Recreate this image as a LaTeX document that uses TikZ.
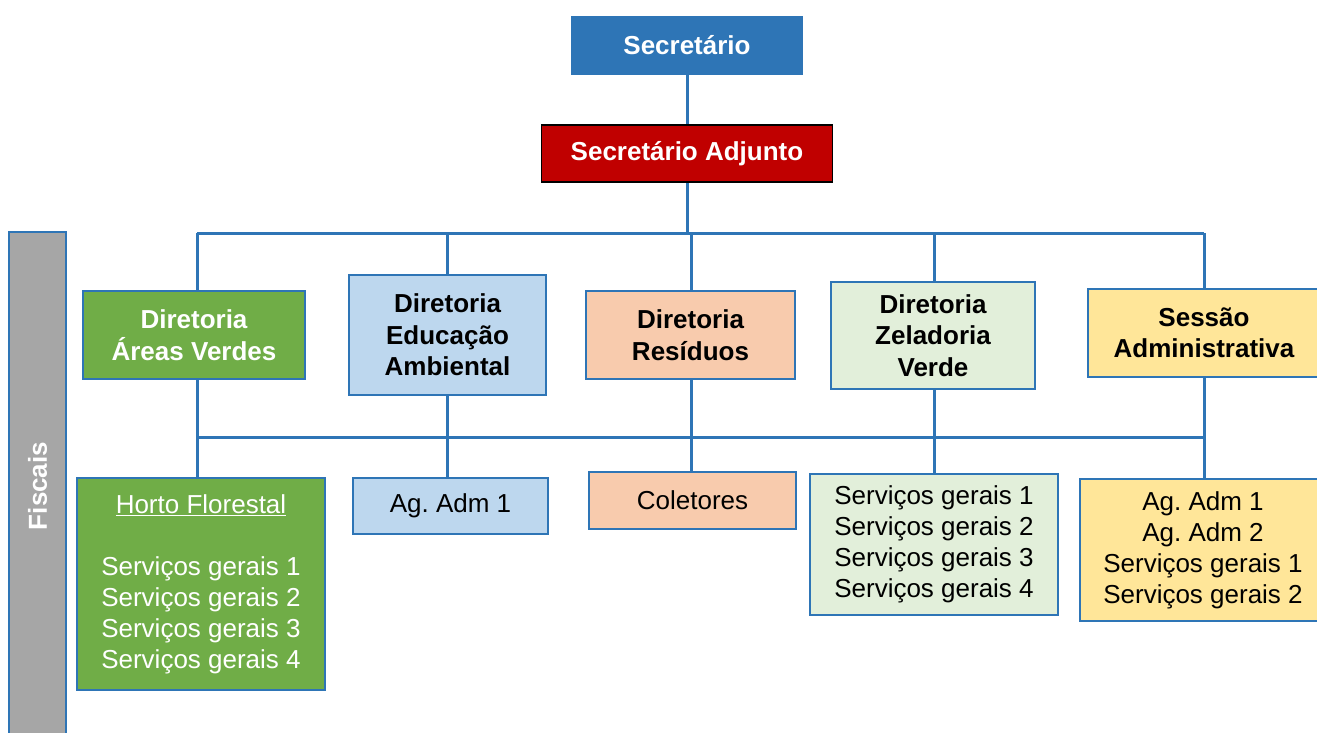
\documentclass[tikz,border=0pt]{standalone}
\usepackage{fontspec}
\setmainfont{Liberation Sans}
\frenchspacing
\usepackage{tikz}
\usetikzlibrary{positioning,backgrounds}
\definecolor{linkblue}{HTML}{2E75B6}
\definecolor{secblue}{HTML}{2E75B6}
\definecolor{adjred}{HTML}{C00000}
\definecolor{avgreen}{HTML}{70AD47}
\definecolor{edublue}{HTML}{BDD7EE}
\definecolor{respeach}{HTML}{F8CBAD}
\definecolor{zelgreen}{HTML}{E2EFDA}
\definecolor{admyellow}{HTML}{FFE699}
\definecolor{fisgray}{HTML}{A6A6A6}

\begin{document}
\begin{tikzpicture}[x=1pt, y=-1pt,
  box/.style={rectangle, draw=linkblue, line width=1.5pt, inner sep=0pt,
    align=center, font=\fontsize{26}{31}\selectfont},
  headbox/.style={box, font=\fontsize{26}{31.5}\selectfont\bfseries},
  link/.style={draw=linkblue, line width=3pt}]
  \clip (0,0) rectangle (1317,733);
  % top levels
  \node[headbox,fill=secblue,text=white,minimum width=230,minimum height=57] (sec) at (687,45.5) {Secret\'ario};
  \node[headbox,fill=adjred,draw=black,text=white,minimum width=291,minimum height=57] (adj) at (687,153.5) {Secret\'ario Adjunto};
  \node[headbox,fill=fisgray,minimum width=57,minimum height=508] (fis) at (37.5,486) {};
  \node[font=\fontsize{26}{31.5}\selectfont\bfseries,text=white,rotate=90] (fist) at (fis.center) {Fiscais};
  % directorates
  \node[headbox,fill=avgreen,text=white,minimum width=222,minimum height=88] (dav) at (194,335) {Diretoria\\\'Areas Verdes};
  \node[headbox,fill=edublue,minimum width=197,minimum height=120] (dea) at (447.5,335) {Diretoria\\Educa\c{c}\~ao\\Ambiental};
  \node[headbox,fill=respeach,minimum width=209,minimum height=88] (dre) at (690.5,335) {Diretoria\\Res\'iduos};
  \node[headbox,fill=zelgreen,minimum width=204,minimum height=107] (dzv) at (933,335.5) {Diretoria\\Zeladoria\\Verde};
  \node[headbox,fill=admyellow,minimum width=232,minimum height=88] (sad) at (1204,333) {Sess\~ao\\Administrativa};
  % staff
  \node[box,fill=avgreen,text=white,minimum width=248,minimum height=212] (hor) at (201,584)
    {\underline{Horto Florestal}\\[31pt]Servi\c{c}os gerais 1\\Servi\c{c}os gerais 2\\Servi\c{c}os gerais 3\\Servi\c{c}os gerais 4};
  \node[box,fill=edublue,minimum width=195,minimum height=56] (aga) at (450.5,506) {Ag. Adm 1};
  \node[box,fill=respeach,minimum width=207,minimum height=57] (col) at (692.5,500.5) {Coletores};
  \node[box,fill=zelgreen,minimum width=248,minimum height=141] (zse) at (934,544.5)
    {Servi\c{c}os gerais 1\\Servi\c{c}os gerais 2\\Servi\c{c}os gerais 3\\Servi\c{c}os gerais 4};
  \node[box,fill=admyellow,minimum width=246,minimum height=142] (sse) at (1203,550)
    {Ag. Adm 1\\Ag. Adm 2\\Servi\c{c}os gerais 1\\Servi\c{c}os gerais 2};
  % connectors
  \coordinate (c1) at (197,233);
  \coordinate (c2) at (447,233);
  \coordinate (c3) at (691,233);
  \coordinate (c4) at (934,233);
  \coordinate (c5) at (1204,233);
  \coordinate (low) at (197,437);
  \begin{scope}[on background layer]
  \draw[link] (sec) -- (adj);
  \draw[link] (adj) -- (adj |- c1);
  \draw[link] (c1) -- (c5);
  \draw[link] (low) -- (c5 |- low);
  \draw[link] (c1) -- (c1 |- hor.north);
  \draw[link] (c2) -- (c2 |- aga.north);
  \draw[link] (c3) -- (c3 |- col.north);
  \draw[link] (c4) -- (c4 |- zse.north);
  \draw[link] (c5) -- (c5 |- sse.north);
  \end{scope}
\end{tikzpicture}
\end{document}
